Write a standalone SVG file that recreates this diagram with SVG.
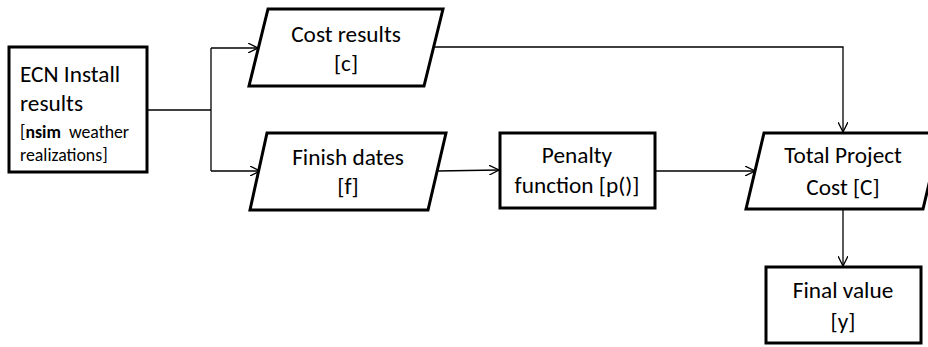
<svg xmlns="http://www.w3.org/2000/svg" width="928" height="347" viewBox="0 0 928 347">
<defs>
<marker id="arr" viewBox="0 0 10 10" refX="10" refY="5" markerWidth="10" markerHeight="10" markerUnits="userSpaceOnUse" orient="auto">
<path d="M0,0 L10,5 L0,10" fill="none" stroke="#000" stroke-width="1.3"/>
</marker>
</defs>
<style>
.shape{fill:#fff;stroke:#000;stroke-width:3;stroke-linejoin:miter}
.conn{fill:none;stroke:#000;stroke-width:1.3}
text{font-family:Carlito,Lato,"Liberation Sans",sans-serif;font-size:23.3px;fill:#000}
.c{text-anchor:middle}
.s{font-size:17.8px}
</style>
<rect width="928" height="347" fill="#fff"/>
<g id="connectors">
<path class="conn" d="M147,110 H211"/>
<path class="conn" d="M211,48 V171"/>
<path class="conn" d="M211,48 H258" marker-end="url(#arr)"/>
<path class="conn" d="M211,171 H260" marker-end="url(#arr)"/>
<path class="conn" d="M434,47 H843 V132" marker-end="url(#arr)"/>
<path class="conn" d="M437,171 L499,170" marker-end="url(#arr)"/>
<path class="conn" d="M655,171 H755" marker-end="url(#arr)"/>
<path class="conn" d="M843,209 V266" marker-end="url(#arr)"/>
</g>
<g id="ecn">
<rect class="shape" x="9" y="47" width="138" height="125"/>
<text x="20" y="82">ECN Install</text>
<text x="20" y="111">results</text>
<text x="20" y="138" class="s" xml:space="preserve">[<tspan font-weight="bold">nsim</tspan>  weather</text>
<text x="20" y="161" class="s">realizations]</text>
</g>
<g id="cost">
<polygon class="shape" points="268,9 443,9 424,86 249,86"/>
<text x="346" y="42" class="c">Cost results</text>
<text x="346" y="71" class="c">[c]</text>
</g>
<g id="finish">
<polygon class="shape" points="267,133 446,133 428,210 250,210"/>
<text x="348" y="165" class="c">Finish dates</text>
<text x="348" y="194" class="c">[f]</text>
</g>
<g id="penalty">
<rect class="shape" x="500" y="133" width="155" height="75"/>
<text x="577" y="163" class="c">Penalty</text>
<text x="577" y="193" class="c">function [p()]</text>
</g>
<g id="total">
<polygon class="shape" points="764,133 941,133 923,209 746,209"/>
<text x="843" y="163" class="c">Total Project</text>
<text x="843" y="195" class="c">Cost [C]</text>
</g>
<g id="final">
<rect class="shape" x="766" y="267" width="155" height="76"/>
<text x="843" y="298" class="c">Final value</text>
<text x="843" y="329" class="c">[y]</text>
</g>
</svg>
